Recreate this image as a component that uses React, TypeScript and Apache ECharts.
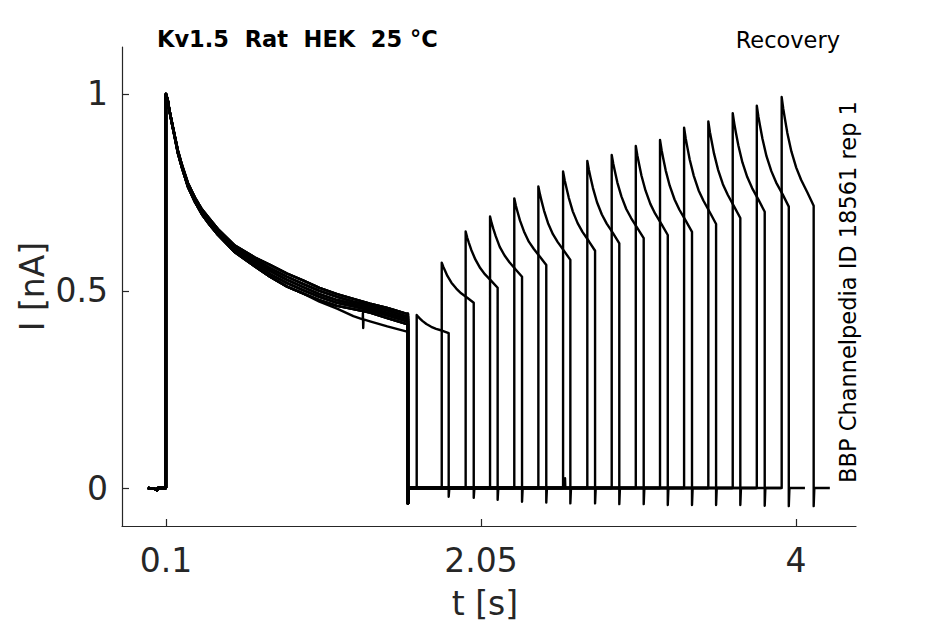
import React, { useEffect, useRef } from "react";
import * as echarts from "echarts";

// ---- data ----
const X_TICKS = [0.1, 2.05, 4];
const Y_TICKS = [0, 0.5, 1];

// pre-pulse baseline
const PRE_T = [-0.012, 0.03, 0.045, 0.05, 0.1];
const PRE_V = [0, -0.002, -0.006, 0, 0];

// first pulse decay: band of overlapping traces (top edge .. bottom edge)
const DECAY_T = [0.1, 0.105, 0.112, 0.12, 0.137, 0.155, 0.174, 0.2, 0.236, 0.28, 0.323, 0.37, 0.422, 0.527, 0.651, 0.744, 0.85, 0.948, 1.05, 1.159, 1.26, 1.363, 1.47, 1.592];
const DECAY_B1 = [1.0, 0.994, 0.984, 0.963, 0.929, 0.893, 0.857, 0.819, 0.774, 0.737, 0.707, 0.683, 0.657, 0.615, 0.585, 0.566, 0.544, 0.527, 0.508, 0.492, 0.48, 0.468, 0.457, 0.442];
const DECAY_B2 = [1.0, 0.993, 0.983, 0.962, 0.928, 0.892, 0.855, 0.817, 0.772, 0.734, 0.704, 0.679, 0.654, 0.611, 0.579, 0.558, 0.536, 0.518, 0.5, 0.485, 0.473, 0.463, 0.451, 0.435];
const DECAY_B3 = [1.0, 0.992, 0.982, 0.962, 0.926, 0.891, 0.853, 0.815, 0.769, 0.731, 0.701, 0.675, 0.65, 0.607, 0.574, 0.551, 0.528, 0.51, 0.492, 0.477, 0.467, 0.457, 0.444, 0.429];
const DECAY_B4 = [1.0, 0.992, 0.982, 0.961, 0.925, 0.89, 0.851, 0.813, 0.766, 0.728, 0.697, 0.671, 0.646, 0.602, 0.568, 0.543, 0.52, 0.502, 0.485, 0.47, 0.461, 0.451, 0.438, 0.423];
const DECAY_B5 = [1.0, 0.991, 0.981, 0.96, 0.924, 0.888, 0.849, 0.811, 0.764, 0.725, 0.694, 0.668, 0.642, 0.598, 0.562, 0.536, 0.511, 0.494, 0.477, 0.462, 0.454, 0.445, 0.431, 0.416];
// the one trace that ends below the band (with a small glitch)
const DECAY_LOW_T = [0.1, 0.105, 0.112, 0.12, 0.137, 0.155, 0.174, 0.2, 0.236, 0.28, 0.323, 0.37, 0.422, 0.527, 0.651, 0.744, 0.85, 0.948, 1.05, 1.159, 1.26, 1.318, 1.319, 1.321, 1.323, 1.363, 1.47, 1.592];
const DECAY_LOW = [1.0, 0.991, 0.981, 0.96, 0.924, 0.888, 0.849, 0.811, 0.764, 0.725, 0.694, 0.668, 0.642, 0.598, 0.562, 0.536, 0.511, 0.494, 0.473, 0.455, 0.436, 0.428, 0.444, 0.406, 0.428, 0.423, 0.41, 0.397];

// which decay variant each trace follows (0..4 band, 5 low trace)
const TRACE_VARIANT = [0, 2, 4, 1, 3, 5, 2, 0, 4, 1, 3, 2, 0, 4, 1, 3];

const FIRST_END = 1.598;
const FIRST_DIP = -0.04;

// second (recovery) pulses, one per trace
const P2_START = [1.652, 1.807, 1.955, 2.106, 2.256, 2.405, 2.558, 2.708, 2.859, 3.008, 3.158, 3.307, 3.457, 3.608, 3.757, 3.911];
const P2_PEAK = [0.439, 0.572, 0.651, 0.689, 0.735, 0.765, 0.803, 0.83, 0.845, 0.868, 0.883, 0.914, 0.93, 0.951, 0.97, 0.992];
const P2_AT_10MS = [0.434, 0.561, 0.635, 0.672, 0.716, 0.745, 0.781, 0.807, 0.822, 0.843, 0.857, 0.887, 0.903, 0.924, 0.942, 0.962];
const P2_AT_20MS = [0.43, 0.552, 0.622, 0.658, 0.701, 0.728, 0.763, 0.788, 0.803, 0.823, 0.836, 0.865, 0.881, 0.901, 0.919, 0.937];
const P2_AT_35MS = [0.424, 0.538, 0.604, 0.639, 0.679, 0.704, 0.737, 0.761, 0.775, 0.793, 0.806, 0.833, 0.849, 0.869, 0.886, 0.901];
const P2_AT_60MS = [0.416, 0.521, 0.58, 0.612, 0.651, 0.672, 0.702, 0.725, 0.74, 0.755, 0.767, 0.792, 0.808, 0.826, 0.842, 0.854];
const P2_AT_90MS = [0.409, 0.506, 0.558, 0.59, 0.625, 0.644, 0.672, 0.694, 0.708, 0.721, 0.732, 0.755, 0.771, 0.789, 0.804, 0.813];
const P2_AT_120MS = [0.404, 0.494, 0.542, 0.573, 0.607, 0.624, 0.65, 0.671, 0.685, 0.696, 0.706, 0.729, 0.744, 0.761, 0.775, 0.782];
const P2_AT_160MS = [0.399, 0.482, 0.525, 0.554, 0.586, 0.601, 0.626, 0.646, 0.659, 0.669, 0.678, 0.699, 0.714, 0.731, 0.745, 0.749];
const P2_END = [0.393, 0.47, 0.508, 0.536, 0.566, 0.579, 0.602, 0.621, 0.634, 0.642, 0.65, 0.67, 0.685, 0.701, 0.714, 0.716];
const P2_DIP = [-0.022, -0.025, -0.03, -0.035, -0.037, -0.039, -0.039, -0.041, -0.041, -0.043, -0.043, -0.043, -0.043, -0.045, -0.046, -0.046];
const P2_OFFSETS = [0.01, 0.02, 0.035, 0.06, 0.09, 0.12, 0.16];
const P2_DURATION = 0.198;
const TAIL = 0.1;

const BLIP_TRACE = 12;
const BLIP_T = 2.57;
const BLIP_V = 0.025;

const VARIANTS = [
  { t: DECAY_T, v: DECAY_B1 },
  { t: DECAY_T, v: DECAY_B2 },
  { t: DECAY_T, v: DECAY_B3 },
  { t: DECAY_T, v: DECAY_B4 },
  { t: DECAY_T, v: DECAY_B5 },
  { t: DECAY_LOW_T, v: DECAY_LOW },
];
const P2_MIDS = [P2_AT_10MS, P2_AT_20MS, P2_AT_35MS, P2_AT_60MS, P2_AT_90MS, P2_AT_120MS, P2_AT_160MS];

function buildTrace(k: number): number[][] {
  const pts: number[][] = [];
  PRE_T.forEach((t, i) => pts.push([t, PRE_V[i]]));
  const c = VARIANTS[TRACE_VARIANT[k]];
  c.t.forEach((t, i) => pts.push([t, c.v[i]]));
  pts.push([FIRST_END, c.v[c.v.length - 1]]);
  pts.push([FIRST_END, FIRST_DIP]);
  pts.push([FIRST_END + 0.004, 0]);
  if (k === BLIP_TRACE) {
    pts.push([BLIP_T, 0]);
    pts.push([BLIP_T, BLIP_V]);
    pts.push([BLIP_T + 0.002, 0]);
  }
  const s = P2_START[k];
  pts.push([s, 0]);
  pts.push([s, P2_PEAK[k]]);
  P2_OFFSETS.forEach((o, i) => pts.push([s + o, P2_MIDS[i][k]]));
  const e = s + P2_DURATION;
  pts.push([e, P2_END[k]]);
  pts.push([e, P2_DIP[k]]);
  pts.push([e + 0.004, 0]);
  pts.push([e + TAIL, 0]);
  return pts;
}

const FONT = "DejaVu Sans";
const AX = "#262626";

export default function App() {
  const ref = useRef<HTMLDivElement>(null);
  useEffect(() => {
    const chart = echarts.init(ref.current!, null, { renderer: "svg" });
    const series = P2_START.map((_, k) => ({
      type: "line",
      data: buildTrace(k),
      showSymbol: false,
      symbol: "none",
      silent: true,
      lineStyle: { color: "#000", width: 2.4, join: "round" },
      z: 3,
    }));
    chart.setOption({
      animation: false,
      backgroundColor: "#fff",
      grid: { left: 122, top: 47, width: 734, height: 479, containLabel: false, outerBoundsMode: "none" },
      xAxis: {
        type: "value",
        min: -0.172,
        max: 4.371,
        axisLine: { show: true, onZero: false, lineStyle: { color: AX, width: 1.2 } },
        axisTick: { show: true, inside: true, length: 7, customValues: X_TICKS, lineStyle: { color: AX, width: 1.2 } },
        axisLabel: {
          show: true,
          customValues: X_TICKS,
          margin: 18,
          color: AX,
          fontFamily: FONT,
          fontSize: 33,
          formatter: (v: number) => String(v),
        },
        splitLine: { show: false },
      },
      yAxis: {
        type: "value",
        min: -0.0964,
        max: 1.119,
        axisLine: { show: true, onZero: false, lineStyle: { color: AX, width: 1.2 } },
        axisTick: { show: true, inside: true, length: 7, customValues: Y_TICKS, lineStyle: { color: AX, width: 1.2 } },
        axisLabel: {
          show: true,
          customValues: Y_TICKS,
          margin: 14,
          color: AX,
          fontFamily: FONT,
          fontSize: 33,
          formatter: (v: number) => String(v),
        },
        splitLine: { show: false },
      },
      graphic: [
        {
          type: "text",
          x: 157,
          y: 39,
          style: { text: "Kv1.5  Rat  HEK  25 °C", font: `bold 22.5px "${FONT}"`, fill: "#000", align: "left", verticalAlign: "middle" },
        },
        {
          type: "text",
          x: 840,
          y: 40,
          style: { text: "Recovery", font: `22.5px "${FONT}"`, fill: "#000", align: "right", verticalAlign: "middle" },
        },
        {
          type: "text",
          x: 848,
          y: 292,
          rotation: Math.PI / 2,
          style: { text: "BBP Channelpedia ID 18561 rep 1", font: `22.5px "${FONT}"`, fill: "#000", align: "center", verticalAlign: "middle" },
        },
        {
          type: "text",
          x: 485,
          y: 603,
          style: { text: "t [s]", font: `33px "${FONT}"`, fill: AX, align: "center", verticalAlign: "middle" },
        },
        {
          type: "text",
          x: 32,
          y: 286.5,
          rotation: Math.PI / 2,
          style: { text: "I [nA]", font: `33px "${FONT}"`, fill: AX, align: "center", verticalAlign: "middle" },
        },
      ],
      series,
    });
    return () => chart.dispose();
  }, []);
  return <div ref={ref} style={{ position: "absolute", left: 0, top: 0, width: 945, height: 624 }} />;
}
